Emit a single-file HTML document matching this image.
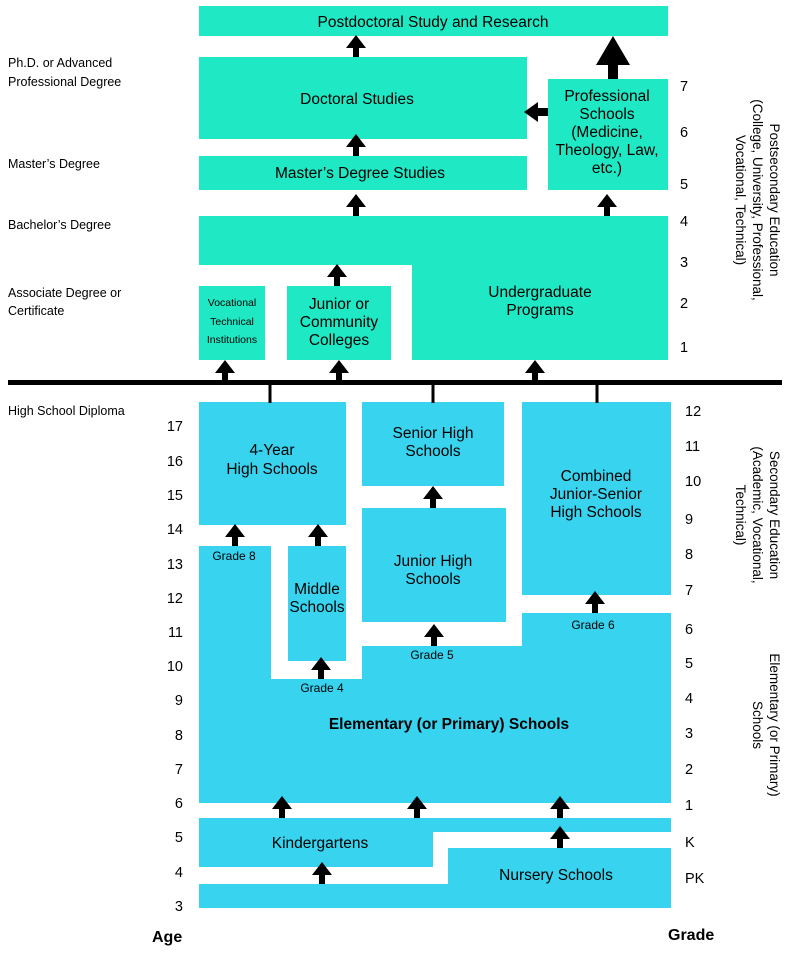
<!DOCTYPE html>
<html><head><meta charset="utf-8"><style>
html,body{margin:0;padding:0;background:#fff;}
svg{display:block;font-family:"Liberation Sans",sans-serif;}
</style></head><body>
<svg width="800" height="965" viewBox="0 0 800 965" xmlns="http://www.w3.org/2000/svg">
<defs>
<path id="au" d="M-3,0 L-3,-9 L-10,-9 L0,-22 L10,-9 L3,-9 L3,0 Z"/>
</defs>
<g fill="#1fe8c4">
<rect x="199" y="6" width="469" height="30"/>
<rect x="199" y="57" width="328" height="82"/>
<rect x="199" y="156" width="328" height="34"/>
<rect x="548" y="79" width="120" height="111"/>
<polygon points="199,216 668,216 668,360 412,360 412,265 199,265"/>
<rect x="199" y="286" width="66" height="74"/>
<rect x="287" y="286" width="104" height="74"/>
</g>
<g fill="#38d4ef">
<rect x="199" y="402" width="147" height="123"/>
<rect x="362" y="402" width="142" height="84"/>
<rect x="522" y="402" width="149" height="193"/>
<rect x="362" y="508" width="144" height="114"/>
<rect x="288" y="546" width="58" height="115"/>
<polygon points="199,546 271,546 271,679 362,679 362,646 522,646 522,613 671,613 671,803 199,803"/>
<polygon points="199,818 671,818 671,832 433,832 433,867 199,867"/>
<polygon points="448,848 671,848 671,908 199,908 199,884 448,884"/>
</g>
<rect x="8" y="380" width="774" height="5" fill="#000"/>
<g stroke="#000" stroke-width="3"><line x1="270" y1="383" x2="270" y2="403"/><line x1="433" y1="383" x2="433" y2="403"/><line x1="597" y1="383" x2="597" y2="403"/></g>
<g fill="#000">
<use href="#au" x="356" y="57"/>
<use href="#au" x="356" y="156"/>
<use href="#au" x="356" y="216"/>
<use href="#au" x="607" y="216"/>
<use href="#au" x="337" y="286"/>
<use href="#au" x="225" y="382"/>
<use href="#au" x="339" y="382"/>
<use href="#au" x="535" y="382"/>
<path d="M608,79 L608,65 L596,65 L613,36 L630,65 L618,65 L618,79 Z"/>
<path d="M548,108 L538,108 L538,102 L524,112 L538,122 L538,116 L548,116 Z"/>
<use href="#au" x="235" y="546"/>
<use href="#au" x="318" y="546"/>
<use href="#au" x="433" y="508"/>
<use href="#au" x="321" y="679"/>
<use href="#au" x="434" y="646"/>
<use href="#au" x="595" y="613"/>
<use href="#au" x="282" y="818"/>
<use href="#au" x="417" y="818"/>
<use href="#au" x="560" y="818"/>
<use href="#au" x="560" y="848"/>
<use href="#au" x="322" y="884"/>
</g>
<g font-size="15.5" text-anchor="middle" fill="#000">
<text x="433" y="27">Postdoctoral Study and Research</text>
<text x="357" y="104">Doctoral Studies</text>
<text x="360" y="178">Master’s Degree Studies</text>
<text x="607" y="101">Professional</text>
<text x="607" y="119">Schools</text>
<text x="607" y="137">(Medicine,</text>
<text x="607" y="155">Theology, Law,</text>
<text x="607" y="173">etc.)</text>
<text x="540" y="297">Undergraduate</text>
<text x="540" y="315">Programs</text>
<text x="339" y="309">Junior or</text>
<text x="339" y="327">Community</text>
<text x="339" y="345">Colleges</text>
<text x="272" y="455">4-Year</text>
<text x="272" y="474">High Schools</text>
<text x="433" y="438">Senior High</text>
<text x="433" y="456">Schools</text>
<text x="596" y="481">Combined</text>
<text x="596" y="499">Junior-Senior</text>
<text x="596" y="517">High Schools</text>
<text x="433" y="566">Junior High</text>
<text x="433" y="584">Schools</text>
<text x="317" y="594">Middle</text>
<text x="317" y="612">Schools</text>
<text x="320" y="848">Kindergartens</text>
<text x="556" y="880">Nursery Schools</text>
</g>
<text x="449" y="729" font-size="15.5" font-weight="bold" text-anchor="middle" fill="#000">Elementary (or Primary) Schools</text>
<g font-size="10.5" text-anchor="middle" fill="#000">
<text x="232" y="306">Vocational</text>
<text x="232" y="325">Technical</text>
<text x="232" y="343">Institutions</text>
</g>
<g font-size="12" text-anchor="middle" fill="#000">
<text x="234" y="560">Grade 8</text>
<text x="322" y="692">Grade 4</text>
<text x="432" y="659">Grade 5</text>
<text x="593" y="629">Grade 6</text>
</g>
<g font-size="12.5" fill="#000">
<text x="8" y="67">Ph.D. or Advanced</text>
<text x="8" y="86">Professional Degree</text>
<text x="8" y="168">Master’s Degree</text>
<text x="8" y="229">Bachelor’s Degree</text>
<text x="8" y="297">Associate Degree or</text>
<text x="8" y="315">Certificate</text>
<text x="8" y="415">High School Diploma</text>
</g>
<g font-size="14.5" text-anchor="end" fill="#000">
<text x="183" y="431">17</text><text x="183" y="466">16</text><text x="183" y="500">15</text><text x="183" y="534">14</text><text x="183" y="569">13</text><text x="183" y="603">12</text><text x="183" y="637">11</text><text x="183" y="671">10</text><text x="183" y="705">9</text><text x="183" y="740">8</text><text x="183" y="774">7</text><text x="183" y="808">6</text><text x="183" y="842">5</text><text x="183" y="877">4</text><text x="183" y="911">3</text>
</g>
<g font-size="14.5" fill="#000">
<text x="680" y="91">7</text><text x="680" y="137">6</text><text x="680" y="189">5</text><text x="680" y="226">4</text><text x="680" y="267">3</text><text x="680" y="308">2</text><text x="680" y="352">1</text>
<text x="685" y="416">12</text><text x="685" y="451">11</text><text x="685" y="486">10</text><text x="685" y="524">9</text><text x="685" y="559">8</text><text x="685" y="595">7</text><text x="685" y="634">6</text><text x="685" y="668">5</text><text x="685" y="703">4</text><text x="685" y="738">3</text><text x="685" y="774">2</text><text x="685" y="810">1</text><text x="685" y="847">K</text><text x="685" y="883">PK</text>
</g>
<g font-size="13.5" text-anchor="middle" fill="#000">
<text transform="translate(757,200) rotate(90)"><tspan x="0" y="-13">Postsecondary Education</tspan><tspan x="0" y="4">(College, University, Professional,</tspan><tspan x="0" y="21">Vocational, Technical)</tspan></text>
<text transform="translate(757,515) rotate(90)"><tspan x="0" y="-13">Secondary Education</tspan><tspan x="0" y="4">(Academic, Vocational,</tspan><tspan x="0" y="21">Technical)</tspan></text>
<text transform="translate(765,725) rotate(90)"><tspan x="0" y="-5">Elementary (or Primary)</tspan><tspan x="0" y="12">Schools</tspan></text>
</g>
<g font-size="16" font-weight="bold" fill="#000">
<text x="152" y="942">Age</text>
<text x="668" y="940">Grade</text>
</g>
</svg>
</body></html>
